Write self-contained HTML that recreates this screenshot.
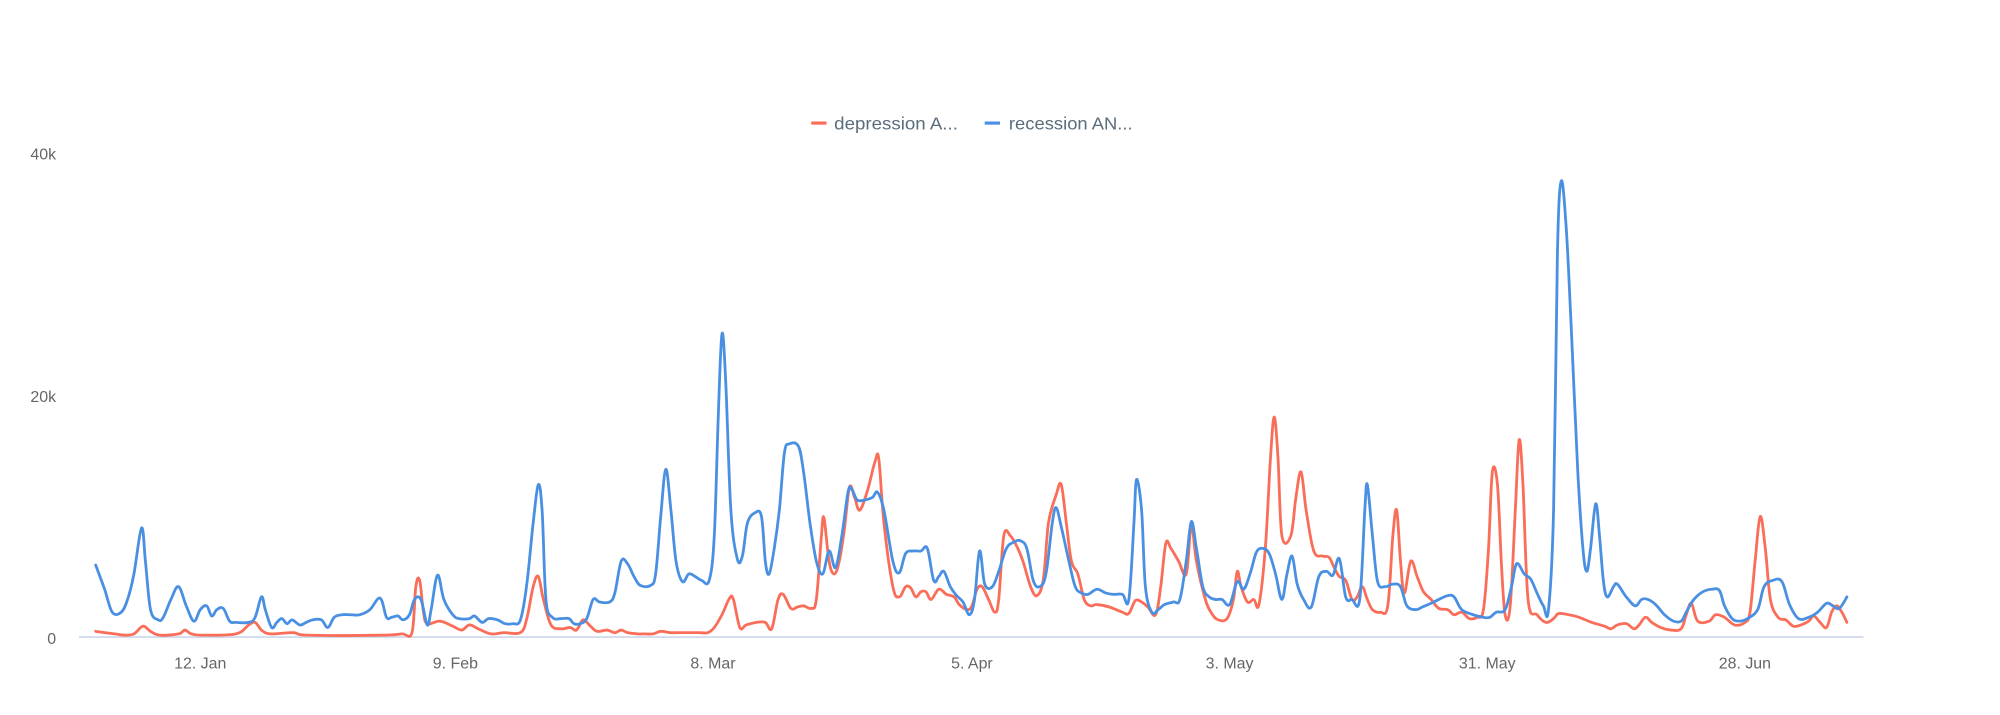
<!DOCTYPE html>
<html><head><meta charset="utf-8"><style>
html,body{margin:0;padding:0;background:#fff;width:2000px;height:715px;overflow:hidden}
svg{display:block}
text{font-family:"Liberation Sans",sans-serif}
</style></head><body>
<svg id="s" width="2000" height="715" viewBox="0 0 1568 560.6" preserveAspectRatio="none">
<rect width="1568" height="560.6" fill="#fff"/>
<line x1="62" y1="499.5" x2="1461" y2="499.5" stroke="#ccd6eb" stroke-width="1.2"/>
<g fill="#666" font-size="12.5">
<text x="44" y="125" text-anchor="end">40k</text>
<text x="44" y="315" text-anchor="end">20k</text>
<text x="44" y="505" text-anchor="end">0</text>
<g text-anchor="middle">
<text x="157" y="524">12. Jan</text>
<text x="357" y="524">9. Feb</text>
<text x="559" y="524">8. Mar</text>
<text x="762" y="524">5. Apr</text>
<text x="964" y="524">3. May</text>
<text x="1166" y="524">31. May</text>
<text x="1368" y="524">28. Jun</text>
</g></g>
<line x1="636" y1="96.5" x2="648" y2="96.5" stroke="#fa6e59" stroke-width="2.5"/>
<text x="654" y="101.5" font-size="14" fill="#5b6d7b" textLength="97" lengthAdjust="spacingAndGlyphs">depression A...</text>
<line x1="772" y1="96.5" x2="784" y2="96.5" stroke="#4a90e2" stroke-width="2.5"/>
<text x="791" y="101.5" font-size="14" fill="#5b6d7b" textLength="97" lengthAdjust="spacingAndGlyphs">recession AN...</text>
<polyline class="sm" fill="none" stroke="#fa6e59" stroke-width="2.2" stroke-linejoin="round" stroke-linecap="round" points="75,495 90,497 98,498 105,497 112,491 118,495 125,498 140,497 145,494 150,497 160,498 185,497 195,490 200,488 205,494 212,497 230,496 240,498 300,498 315,497 323,496 326,460 329,455 332,480 335,489 345,487 355,491 362,494 368,490 375,493 385,497 395,496 408,496 413,485 418,460 422,452 426,470 432,490 440,493 447,492 452,494 457,486 462,490 468,495 476,494 482,496 487,494 492,496 500,497 505,497 512,497 518,495 525,496 533,496 540,496 548,496 555,496 560,492 566,482 572,469 575,470 580,492 585,490 593,488 600,488 605,493 610,470 614,466 620,477 625,476 630,475 636,477 640,470 644,420 646,406 650,440 654,450 658,440 662,415 666,382 670,390 674,400 680,385 686,362 689,360 693,410 700,460 705,468 710,460 714,461 718,468 722,464 726,464 730,470 736,462 742,466 748,468 752,474 758,478 762,475 766,462 770,460 775,470 780,480 783,470 787,420 792,420 797,428 802,440 808,460 813,467 818,454 822,410 828,388 832,380 836,410 840,440 845,450 850,470 855,475 860,474 870,476 880,480 885,481 890,471 895,472 900,476 906,482 910,460 914,426 918,430 924,440 930,450 934,412 938,440 945,470 950,481 955,486 962,485 967,470 970,448 973,460 978,472 983,470 987,474 992,430 996,360 999,327 1002,360 1005,420 1012,420 1016,390 1020,370 1024,400 1030,432 1037,436 1042,437 1046,445 1050,452 1055,455 1060,470 1064,468 1068,460 1072,470 1076,478 1082,480 1088,475 1092,420 1095,400 1098,440 1101,465 1106,440 1111,452 1116,464 1122,470 1128,477 1135,478 1140,482 1146,480 1152,485 1158,484 1163,478 1167,430 1170,370 1174,380 1177,440 1180,482 1184,475 1188,400 1191,345 1194,380 1198,470 1205,482 1212,488 1218,485 1222,481 1230,482 1238,484 1248,488 1258,491 1263,493 1268,490 1275,489 1281,493 1285,490 1290,484 1295,488 1302,492 1310,494 1318,493 1322,482 1326,473 1331,487 1340,487 1345,482 1352,484 1360,490 1368,488 1372,480 1376,440 1380,405 1384,430 1388,470 1394,484 1400,486 1406,491 1412,490 1418,487 1422,483 1427,488 1432,492 1436,480 1440,475 1444,480 1448,488"/>
<polyline class="sm" fill="none" stroke="#4a90e2" stroke-width="2.2" stroke-linejoin="round" stroke-linecap="round" points="75,443 82,462 88,480 95,480 100,470 105,450 111,414 114,440 118,478 124,486 128,484 134,470 140,460 146,475 152,487 157,478 162,475 166,483 170,478 175,477 180,487 185,488 195,488 200,484 205,468 208,478 213,492 217,488 221,485 225,489 229,486 235,490 240,488 245,486 252,486 257,492 262,484 268,482 275,482 282,482 290,478 298,469 303,484 307,484 312,483 316,486 321,482 325,470 330,470 335,490 338,478 343,451 348,470 355,482 360,485 368,485 372,483 378,488 383,485 390,486 396,489 402,489 408,486 413,458 418,410 422,380 425,400 428,470 433,484 440,485 446,485 450,489 455,489 460,485 465,470 470,472 478,472 482,465 487,440 492,442 497,452 502,459 510,459 514,450 518,405 522,368 526,400 530,440 535,456 540,450 545,452 550,455 556,455 560,420 563,330 566,262 569,300 573,400 578,438 582,436 586,410 592,402 597,405 600,440 603,450 607,430 611,400 615,355 619,348 626,350 630,370 635,410 640,440 645,450 650,432 655,445 660,420 665,385 668,384 672,392 678,392 684,390 688,386 693,400 700,440 705,449 710,434 716,432 722,432 727,430 732,455 736,452 740,448 745,460 750,467 755,472 760,482 764,470 768,432 772,458 778,460 783,448 789,430 795,425 800,424 805,430 810,455 815,460 820,450 825,410 828,398 832,413 838,440 843,460 848,465 853,466 860,462 867,465 873,466 880,466 885,470 889,410 891,376 895,400 898,460 903,480 908,478 913,474 920,472 925,470 930,440 934,409 938,430 943,460 948,468 953,470 958,470 964,474 970,456 975,462 980,450 985,433 990,430 995,434 1000,450 1005,470 1009,450 1013,436 1017,458 1022,470 1028,476 1034,452 1040,448 1045,451 1050,438 1055,468 1060,470 1066,470 1070,400 1072,380 1076,420 1080,456 1086,460 1092,458 1098,460 1103,475 1110,478 1115,476 1122,473 1128,470 1135,467 1140,468 1146,478 1155,482 1163,484 1168,484 1173,480 1180,478 1185,460 1189,442 1195,450 1200,454 1205,465 1210,475 1214,478 1218,400 1221,200 1224,142 1228,180 1232,260 1237,370 1241,430 1244,448 1247,430 1251,395 1254,420 1257,455 1260,468 1265,460 1268,458 1275,468 1282,475 1287,470 1292,470 1298,474 1305,482 1312,487 1318,487 1322,480 1328,470 1335,464 1342,462 1348,463 1352,475 1358,485 1364,487 1370,485 1378,478 1383,460 1390,455 1397,456 1403,474 1410,485 1418,484 1425,480 1432,473 1437,475 1442,477 1448,468"/>
</svg>
<script>
document.querySelectorAll('polyline.sm').forEach(function(pl){
  var nums=pl.getAttribute('points').trim().split(/[\s,]+/).map(Number);
  var p=[];for(var i=0;i<nums.length;i+=2)p.push([nums[i],nums[i+1]]);
  var t=0.35,d='M'+p[0][0]+','+p[0][1];
  for(var i=0;i<p.length-1;i++){
    var p0=p[i-1]||p[i],p1=p[i],p2=p[i+1],p3=p[i+2]||p2;
    var c1x=p1[0]+(p2[0]-p0[0])*t/2,c1y=p1[1]+(p2[1]-p0[1])*t/2;
    var c2x=p2[0]-(p3[0]-p1[0])*t/2,c2y=p2[1]-(p3[1]-p1[1])*t/2;
    c1x=Math.min(Math.max(c1x,p1[0]),p2[0]);c2x=Math.min(Math.max(c2x,p1[0]),p2[0]);
    d+=' C'+c1x.toFixed(1)+','+c1y.toFixed(1)+' '+c2x.toFixed(1)+','+c2y.toFixed(1)+' '+p2[0]+','+p2[1];
  }
  var path=document.createElementNS('http://www.w3.org/2000/svg','path');
  ['fill','stroke','stroke-width','stroke-linejoin','stroke-linecap'].forEach(function(a){path.setAttribute(a,pl.getAttribute(a));});
  path.setAttribute('d',d);
  pl.parentNode.replaceChild(path,pl);
});
</script>
</body></html>
